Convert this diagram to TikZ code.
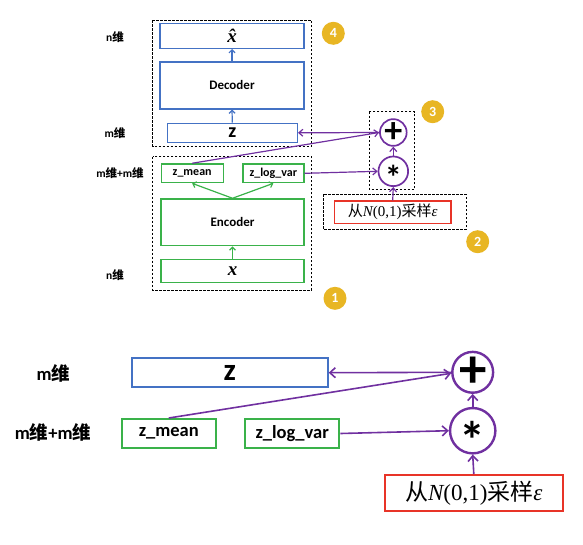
\documentclass[tikz,border=0pt]{standalone}
\usepackage{amsmath}
\usepackage{graphicx}
\usepackage{fontspec}
\usepackage{xcolor}
\usetikzlibrary{arrows.meta}
\newfontfamily\labfont{Carlito}
\newfontfamily\cjkfont{Noto Sans CJK SC}
\newfontfamily\serfont{Liberation Serif}
\definecolor{vaeblue}{RGB}{68,114,196}
\definecolor{vaegreen}{RGB}{58,178,74}
\definecolor{vaepurple}{RGB}{112,48,160}
\definecolor{vaered}{RGB}{232,52,40}
\definecolor{vaegold}{RGB}{232,182,36}
\newcommand{\wei}{{\cjkfont\bfseries 维}}
\newcommand{\fsz}[1]{\fontsize{#1}{#1}\selectfont}
\newcommand{\samptext}{{\cjkfont 从}{\serfont\itshape N}{\serfont (0,1)}{\cjkfont 采样}{\serfont\itshape ε}}
% asterisk sits high in Carlito: lower the ink, keep the box
\newcommand{\starsym}[2]{\raisebox{-#2}[\height][\depth]{\scalebox{#1}{*}}}

\begin{document}
\begin{tikzpicture}[x=1pt,y=-1pt,
    bluebox/.style={draw=vaeblue, line width=1.4pt, inner sep=0pt, font=\labfont\bfseries\fsz{13}},
    greenbox/.style={bluebox, draw=vaegreen},
    redbox/.style={draw=vaered, line width=1.4pt, inner sep=0pt, font=\fsz{15}},
    opcircle/.style={circle, draw=vaepurple, line width=1.7pt, inner sep=0pt, minimum size=25pt, font=\labfont\bfseries},
    badge/.style={circle, fill=vaegold, text=white, inner sep=0pt, minimum size=23pt, font=\labfont\bfseries\fsz{14}},
    dimlabel/.style={font=\labfont\bfseries\fsz{11.5}},
    dashbox/.style={draw, line width=0.8pt, dash pattern=on 2.5pt off 1.5pt},
    parrow/.style={draw=vaepurple, line width=1.2pt, -{Straight Barb[length=4pt,width=7pt]}},
    barrow/.style={draw=vaeblue, line width=1.2pt, -{Straight Barb[length=3pt,width=6pt]}},
    garrow/.style={draw=vaegreen, line width=1.2pt, -{Straight Barb[length=3pt,width=6pt]}}]
\useasboundingbox (0,0) rectangle (583,544);

% ---- top: whole VAE ----
\draw[dashbox] (152.7,20) rectangle (311.7,146);
\draw[dashbox] (152.7,156.7) rectangle (311.7,290);
\draw[dashbox] (369.3,111.7) rectangle (414.7,189.3);
\draw[dashbox] (323.3,194.3) rectangle (466,229.3);

\node[bluebox, minimum width=144pt, minimum height=25pt] (xhat) at (232,35.8) {\serfont\fsz{19}\itshape\^{x}};
\node[bluebox, minimum width=144pt, minimum height=47pt] (dec) at (232,85.3) {Decoder};
\node[bluebox, minimum width=130pt, minimum height=19pt] (z) at (232.3,132.8) {\fsz{20}z};
\node[greenbox, minimum width=62pt, minimum height=18.7pt, font=\labfont\bfseries\fsz{12}] (zmean) at (192.2,173.3) {z\_mean};
\node[greenbox, minimum width=61pt, minimum height=18.7pt, font=\labfont\bfseries\fsz{12}] (zlogvar) at (273.3,173.3) {z\_log\_var};
\node[greenbox, minimum width=143pt, minimum height=46.7pt] (enc) at (232.5,222.3) {Encoder};
\node[greenbox, minimum width=143pt, minimum height=23.3pt] (x) at (232.5,271) {\serfont\fsz{19}\itshape x};
\node[opcircle] (plus) at (393.3,132.5) {\scalebox{3.6}{+}};
\node[opcircle] (star) at (393.3,171.3) {\starsym{3.4}{5.6pt}};
\node[redbox, minimum width=116.7pt, minimum height=22.3pt] (eps) at (392.7,212.2) {\samptext};

\node[dimlabel] (dimn) at (115,37) {n\wei};
\node[dimlabel] (dimm) at (115,133) {m\wei};
\node[dimlabel] (dimmm) at (120,172.7) {m\wei+m\wei};
\node[dimlabel] (dimx) at (115,275) {n\wei};

\node[badge] (b1) at (335,298.3) {1};
\node[badge] (b2) at (477.7,241.7) {2};
\node[badge] (b3) at (432.7,111.7) {3};
\node[badge] (b4) at (333.3,33.3) {4};

\draw[garrow] (x.north) -- (enc.south);
\draw[garrow] (enc.north) -- (zmean.south);
\draw[garrow] (enc.north) -- (zlogvar.south);
\draw[barrow] (z.north) -- (dec.south);
\draw[barrow] (dec.north) -- (xhat.south);
\draw[parrow] (plus.west) -- (z.east);
\draw[parrow] (zmean.north) -- (plus.west);
\draw[parrow] (zlogvar.east) -- (star.west);
\draw[parrow] (star.north) -- (plus.south);
\draw[parrow] (eps.north) -- (star.south);

% ---- bottom: sampling step enlarged ----
\begin{scope}[bluebox/.append style={line width=2pt, font=\labfont\bfseries\fsz{18.5}},
    redbox/.append style={line width=2pt, font=\fsz{23}},
    opcircle/.append style={line width=2.4pt, minimum size=39.4pt},
    dimlabel/.append style={font=\labfont\bfseries\fsz{18.5}},
    parrow/.append style={line width=1.6pt, -{Straight Barb[length=5.5pt,width=10pt]}}]
\node[dimlabel] (dimmb) at (53.5,373.3) {m\wei};
\node[dimlabel] (dimmmb) at (53,432.7) {m\wei+m\wei};
\node[bluebox, minimum width=196pt, minimum height=28.7pt] (zb) at (229.7,372.7) {\fsz{31}z};
\node[greenbox, minimum width=94.3pt, minimum height=29pt] (zmeanb) at (168.8,433.5) {z\_mean};
\node[greenbox, minimum width=94.3pt, minimum height=29pt] (zlogvarb) at (292.2,433.5) {z\_log\_var};
\node[opcircle] (plusb) at (472.7,372.3) {\scalebox{5.5}{+}};
\node[opcircle] (starb) at (472.7,430.7) {\starsym{5.2}{8.8pt}};
\node[redbox, minimum width=177.7pt, minimum height=36pt] (epsb) at (473.8,493) {\samptext};

\draw[parrow] (plusb.west) -- (zb.east);
\draw[parrow] (zmeanb.north) -- ([yshift=-1pt]plusb.west);
\draw[parrow] (zlogvarb.east) -- (starb.west);
\draw[parrow] (starb.north) -- (plusb.south);
\draw[parrow] (epsb.north) -- (starb.south);
\end{scope}
\end{tikzpicture}
\end{document}
